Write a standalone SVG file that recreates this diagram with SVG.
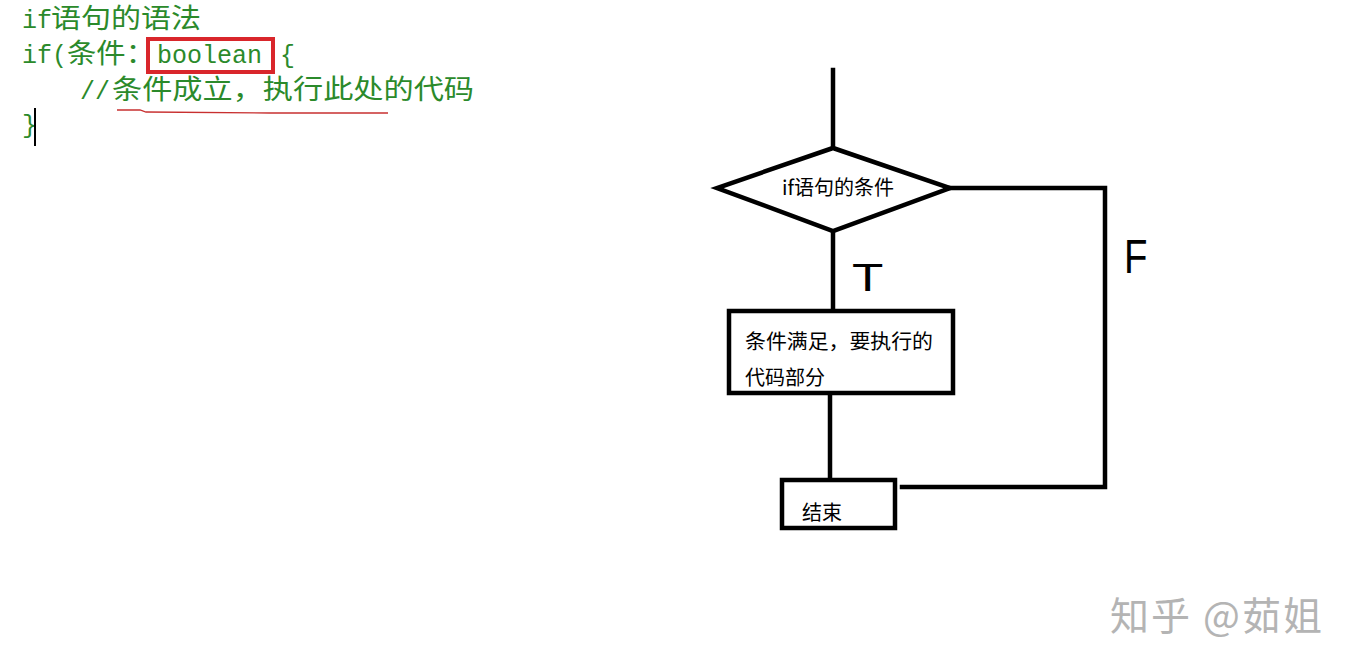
<svg xmlns="http://www.w3.org/2000/svg" width="1356" height="669" viewBox="0 0 1356 669">
<style>
.code{font-family:"Liberation Mono","Noto Sans CJK SC",monospace;font-size:25px;fill:#2b8a2b}
.cjk{font-family:"Noto Sans CJK SC",sans-serif;font-size:27px;fill:#2b8a2b}
.ln{stroke:#000;stroke-width:4.5;fill:none;stroke-linecap:square}
.box{stroke:#000;stroke-width:4.5;fill:#fff}
.lbl{font-family:"Noto Sans CJK SC","Liberation Sans",sans-serif;font-size:20px;fill:#000}
.hand{font-family:"Liberation Sans",sans-serif;fill:#000}
</style>
<rect width="1356" height="669" fill="#fff"/>
<g id="code">
<text class="code" x="22" y="28">if</text>
<text class="cjk" x="51" y="28" textLength="150" lengthAdjust="spacingAndGlyphs">语句的语法</text>
<text class="code" x="22" y="63">if(</text>
<text class="cjk" x="67" y="63" textLength="88" lengthAdjust="spacingAndGlyphs">条件：</text>
<text class="code" x="157" y="63">boolean</text>
<text class="code" x="280" y="63">{</text>
<text class="code" x="80" y="99">//</text>
<text class="cjk" x="112" y="99" textLength="362" lengthAdjust="spacingAndGlyphs">条件成立，执行此处的代码</text>
<text class="code" x="22" y="133">}</text>
<rect x="148" y="39" width="125" height="33" fill="none" stroke="#d9262b" stroke-width="4"/>
<polyline points="117,110 140,110 146,112 270,113 388,113" fill="none" stroke="#c83030" stroke-width="1.3"/>
<line x1="35" y1="108" x2="35" y2="146" stroke="#000" stroke-width="2"/>
</g>
<g id="connectors">
<line class="ln" x1="833" y1="70" x2="833" y2="148"/>
<line class="ln" x1="833" y1="231" x2="833" y2="311"/>
<line class="ln" x1="830" y1="394" x2="830" y2="480"/>
<polyline class="ln" points="950,188 1105,188 1105,487 902,487"/>
<text class="hand" x="852" y="291" font-size="38" transform="translate(852 291) scale(1.35 1) translate(-852 -291)">T</text>
<text class="hand" x="1124" y="273" font-size="48" transform="translate(1124 273) scale(0.8 1) translate(-1124 -273)">F</text>
</g>
<g id="decision">
<polygon class="box" points="833,148 950,188 833,231 717,188"/>
<text class="lbl" x="782" y="195" font-size="19">if语句的条件</text>
</g>
<g id="action">
<rect class="box" x="729" y="311" width="224" height="82"/>
<text class="lbl" x="745" y="349" textLength="188" lengthAdjust="spacingAndGlyphs">条件满足，要执行的</text>
<text class="lbl" x="745" y="385">代码部分</text>
</g>
<g id="end">
<rect class="box" x="782" y="480" width="113" height="48"/>
<text class="lbl" x="802" y="520">结束</text>
</g>
<g id="watermark">
<text x="1110" y="630" font-family="Noto Sans CJK SC,sans-serif" font-size="39" fill="#b4b4b4" textLength="212" lengthAdjust="spacing">知乎 @茹姐</text>
</g>
</svg>
